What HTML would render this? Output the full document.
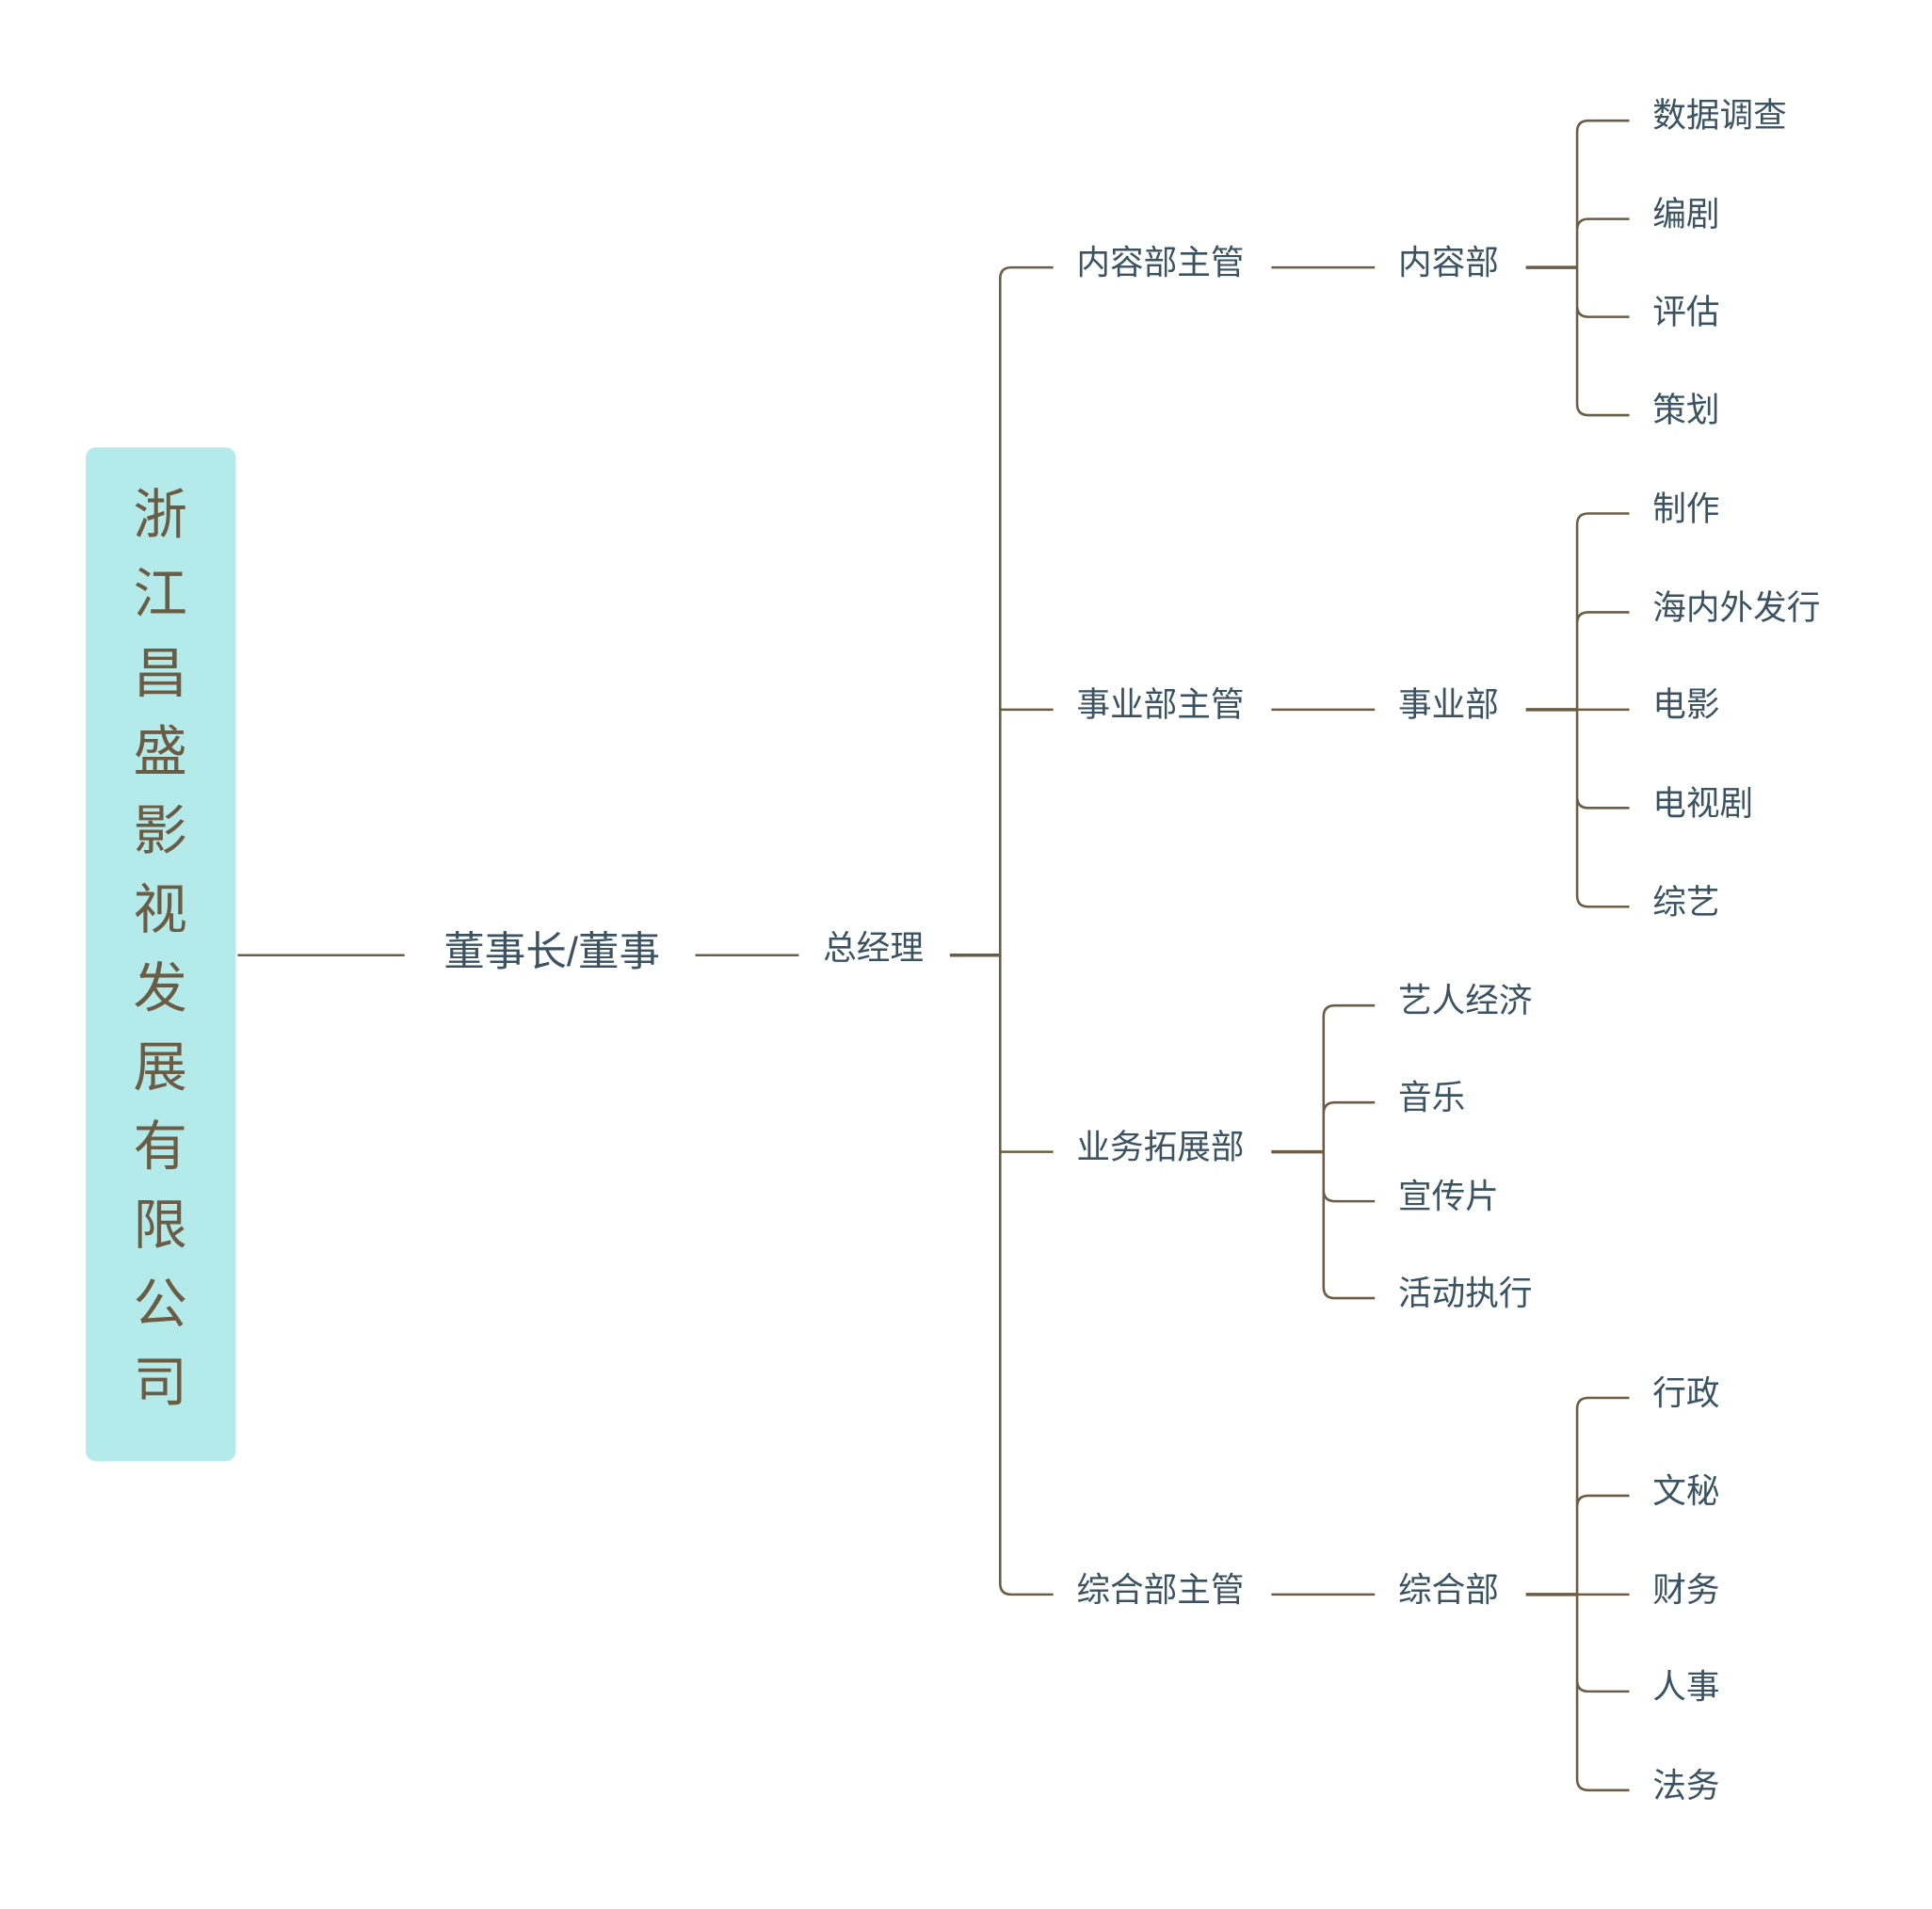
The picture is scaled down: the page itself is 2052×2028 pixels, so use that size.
<!DOCTYPE html>
<html><head><meta charset="utf-8"><style>
html,body{margin:0;padding:0;background:#fff}
svg{display:block}
text{font-family:"Liberation Sans","Noto Sans CJK SC",sans-serif;fill:#3b5260;dominant-baseline:central}
</style></head><body>
<svg width="2052" height="2028" viewBox="0 0 2052 2028" xmlns="http://www.w3.org/2000/svg">
<g transform="scale(0.99)">
<rect x="92" y="480" width="161" height="1088" rx="11" fill="#b5eaea"/>
<g font-size="58" text-anchor="middle">
<text x="172" y="553" style="fill:#6b5d45">浙</text>
<text x="172" y="638" style="fill:#6b5d45">江</text>
<text x="172" y="723" style="fill:#6b5d45">昌</text>
<text x="172" y="807" style="fill:#6b5d45">盛</text>
<text x="172" y="892" style="fill:#6b5d45">影</text>
<text x="172" y="977" style="fill:#6b5d45">视</text>
<text x="172" y="1061" style="fill:#6b5d45">发</text>
<text x="172" y="1146" style="fill:#6b5d45">展</text>
<text x="172" y="1231" style="fill:#6b5d45">有</text>
<text x="172" y="1315" style="fill:#6b5d45">限</text>
<text x="172" y="1400" style="fill:#6b5d45">公</text>
<text x="172" y="1484" style="fill:#6b5d45">司</text>
</g>
<g stroke="#6b5d45" stroke-width="2.6" fill="none">
<path d="M255 1025H434"/>
<path d="M746 1025H857"/>
<path d="M1019 1025H1073" stroke-width="3.5"/>
<path d="M1130 287H1085Q1073 287 1073 299V1699Q1073 1711 1085 1711H1130"/>
<path d="M1073 761.5H1130"/>
<path d="M1073 1236H1130"/>
<path d="M1364 287H1475M1364 761.5H1475M1364 1711H1475"/>
<path d="M1637 287H1692M1637 761.5H1692M1637 1711H1692" stroke-width="3.5"/>
<path d="M1748 129.5H1704Q1692 129.5 1692 141.5V433.5Q1692 445.5 1704 445.5H1748M1692 247Q1692 235 1704 235H1748M1692 328Q1692 340 1704 340H1748"/>
<path d="M1748 551H1704Q1692 551 1692 563V961Q1692 973 1704 973H1748M1692 669Q1692 657 1704 657H1748M1692 855Q1692 867 1704 867H1748M1692 761.5H1748"/>
<path d="M1748 1500H1704Q1692 1500 1692 1512V1909Q1692 1921 1704 1921H1748M1692 1617Q1692 1605 1704 1605H1748M1692 1803Q1692 1815 1704 1815H1748M1692 1711H1748"/>
<path d="M1364 1236H1420" stroke-width="3.5"/>
<path d="M1475 1079H1432Q1420 1079 1420 1091V1381Q1420 1393 1432 1393H1475M1420 1195Q1420 1183 1432 1183H1475M1420 1277Q1420 1289 1432 1289H1475"/>
</g>
<g font-size="36">
<text x="476" y="1022" font-size="44">董事长/董事</text>
<text x="883" y="1017">总经理</text>
<text x="1155" y="282">内容部主管</text>
<text x="1155" y="756">事业部主管</text>
<text x="1155" y="1231">业务拓展部</text>
<text x="1155" y="1706">综合部主管</text>
<text x="1500" y="282">内容部</text>
<text x="1500" y="756">事业部</text>
<text x="1500" y="1706">综合部</text>
<text x="1773" y="124">数据调查</text>
<text x="1773" y="230">编剧</text>
<text x="1773" y="335">评估</text>
<text x="1773" y="440">策划</text>
<text x="1773" y="546">制作</text>
<text x="1773" y="652">海内外发行</text>
<text x="1773" y="756">电影</text>
<text x="1773" y="862">电视剧</text>
<text x="1773" y="968">综艺</text>
<text x="1500" y="1074">艺人经济</text>
<text x="1500" y="1178">音乐</text>
<text x="1500" y="1284">宣传片</text>
<text x="1500" y="1388">活动执行</text>
<text x="1773" y="1495">行政</text>
<text x="1773" y="1600">文秘</text>
<text x="1773" y="1706">财务</text>
<text x="1773" y="1810">人事</text>
<text x="1773" y="1916">法务</text>
</g>
</g>
</svg>
</body></html>
